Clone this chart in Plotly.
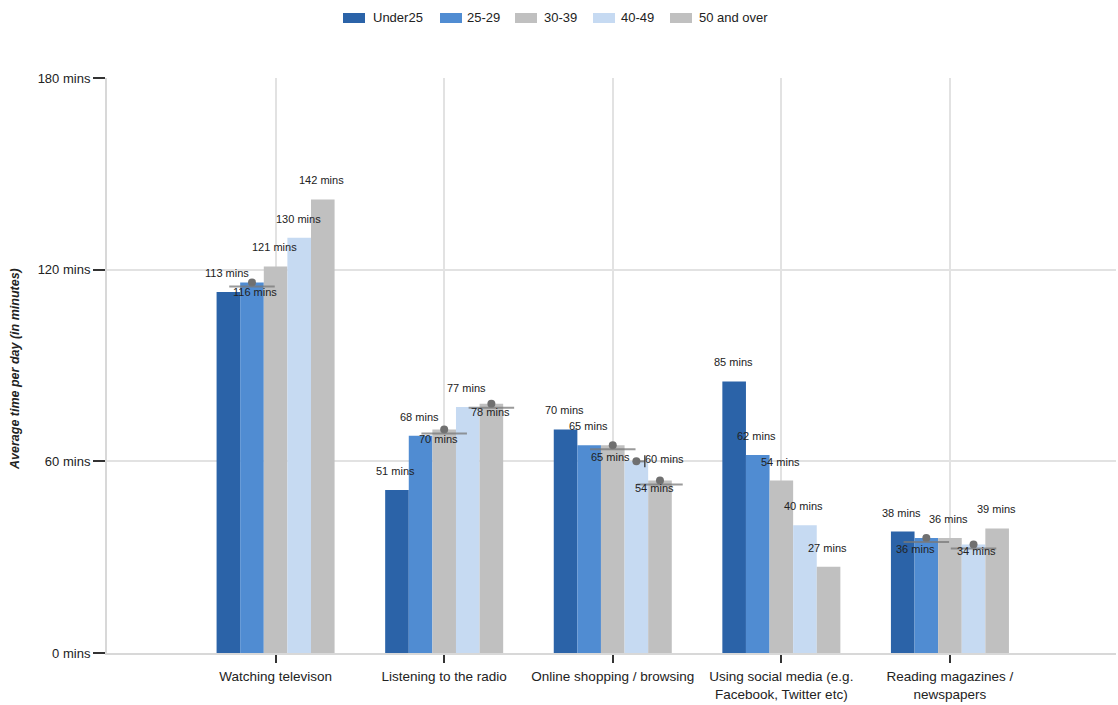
import plotly.graph_objects as go

# Activity categories and age bands
categories = [
    "Watching televison",
    "Listening to the radio",
    "Online shopping / browsing",
    "Using social media (e.g.<br>Facebook, Twitter etc)",
    "Reading magazines /<br>newspapers",
]
age_bands = ["Under25", "25-29", "30-39", "40-49", "50 and over"]

# Average minutes per day, one list per age band (in category order)
under_25 = [113, 51, 70, 85, 38]
age_25_29 = [116, 68, 65, 62, 36]
age_30_39 = [121, 70, 65, 54, 36]
age_40_49 = [130, 77, 60, 40, 34]
age_50_plus = [142, 78, 54, 27, 39]

series = [under_25, age_25_29, age_30_39, age_40_49, age_50_plus]
colors = ["#2b63a8", "#508cd2", "#c0c0c0", "#c6daf2", "#c0c0c0"]

# y-axis ticks
y_ticks = [0, 60, 120, 180]
y_tick_text = ["0 mins", "60 mins", "120 mins", "180 mins"]

# Labels pushed under the bar top with a leader (cat, series): (xshift, yshift)
leader_labels = {
    (0, 1): (3, -10),
    (1, 2): (-6, -10),
    (1, 4): (-1, -8),
    (2, 2): (-2, -12),
    (2, 4): (-5, -7),
    (4, 1): (-11, -11),
    (4, 3): (3, -7),
}
# Label moved to the right of its bar
side_labels = {(2, 3): (28, 2)}

# Page geometry
W, H = 1118, 705
ML, MR, MT, MB = 107, 2, 78, 52
PW, PH = W - ML - MR, H - MT - MB

n_series = len(series)
group_width = 0.7
bar_w = group_width / n_series

FONT = "Liberation Sans, Arial, sans-serif"


def bar_x(j, i):
    return j + (i - (n_series - 1) / 2) * bar_w


def px_x(p):
    return (p - ML) / PW


def px_y(p):
    return (H - MB - p) / PH


fig = go.Figure()
for i, (name, vals) in enumerate(zip(age_bands, series)):
    fig.add_trace(go.Bar(
        x=list(range(len(categories))),
        y=vals,
        name=name,
        marker=dict(color=colors[i], line=dict(width=0)),
        showlegend=False,
        hoverinfo="y+name",
    ))

annotations = []
shapes = []
dot_x, dot_y = [], []
label_font = dict(family=FONT, size=11, color="#222")

for i, vals in enumerate(series):
    for j, v in enumerate(vals):
        xc = bar_x(j, i)
        text = f"{v} mins"
        if (j, i) in leader_labels:
            xs, ys = leader_labels[(j, i)]
            dot_x.append(xc)
            dot_y.append(v)
            shapes.append(dict(
                type="line", xref="x", yref="y", ysizemode="pixel", yanchor=v,
                x0=xc - 0.135, x1=xc + 0.135, y0=-4, y1=-4,
                line=dict(color="rgba(120,120,120,0.75)", width=2),
            ))
            annotations.append(dict(
                x=xc, y=v, xref="x", yref="y", text=text, showarrow=False,
                xshift=xs, yshift=ys, font=label_font,
            ))
        elif (j, i) in side_labels:
            xs, ys = side_labels[(j, i)]
            dot_x.append(xc)
            dot_y.append(v)
            shapes.append(dict(
                type="line", xref="x", yref="y", ysizemode="pixel", yanchor=v,
                x0=xc, x1=xc + 0.05, y0=0, y1=0,
                line=dict(color="rgba(110,110,110,0.8)", width=2),
            ))
            shapes.append(dict(
                type="line", xref="x", yref="y", ysizemode="pixel", yanchor=v,
                x0=xc + 0.05, x1=xc + 0.05, y0=-6, y1=6,
                line=dict(color="rgba(60,60,60,0.9)", width=1.5),
            ))
            annotations.append(dict(
                x=xc, y=v, xref="x", yref="y", text=text, showarrow=False,
                xshift=xs, yshift=ys, font=label_font,
            ))
        else:
            annotations.append(dict(
                x=xc, y=v, xref="x", yref="y", text=text, showarrow=False,
                xshift=-1, yshift=19, font=label_font,
            ))

fig.add_trace(go.Scatter(
    x=dot_x, y=dot_y, mode="markers", showlegend=False, hoverinfo="skip",
    marker=dict(color="#707070", size=8),
))

# Legend drawn across the top
legend_sym_x = [343, 440, 515, 593, 670]
legend_txt_x = [371, 465, 542, 619, 697]
for i, name in enumerate(age_bands):
    shapes.append(dict(
        type="rect", xref="paper", yref="paper",
        x0=px_x(legend_sym_x[i]), x1=px_x(legend_sym_x[i] + 22),
        y0=px_y(23), y1=px_y(13),
        fillcolor=colors[i], line=dict(width=0),
    ))
    annotations.append(dict(
        x=px_x(legend_txt_x[i]), y=px_y(18), xref="paper", yref="paper",
        text=name, showarrow=False, xanchor="left", yanchor="middle",
        font=dict(family=FONT, size=13, color="#222"),
    ))

# Vertical axis title
annotations.append(dict(
    x=px_x(15), y=px_y(369), xref="paper", yref="paper",
    text="<b><i>Average time per day (in minutes)</i></b>", showarrow=False,
    textangle=-90, xanchor="center", yanchor="middle",
    font=dict(family=FONT, size=12.5, color="#222"),
))

fig.update_layout(
    width=W, height=H,
    margin=dict(l=ML, r=MR, t=MT, b=MB),
    paper_bgcolor="white", plot_bgcolor="white",
    barmode="group", bargap=0.3, bargroupgap=0,
    font=dict(family=FONT, size=12, color="#222"),
    annotations=annotations,
    shapes=shapes,
    xaxis=dict(
        range=[-1, 4.985],
        tickmode="array", tickvals=list(range(len(categories))), ticktext=categories,
        showgrid=True, gridcolor="#e2e2e2", gridwidth=2,
        showline=True, linecolor="#d8d8d8", linewidth=2,
        ticks="outside", ticklen=8, tickcolor="#333", tickwidth=1.5,
        ticklabelstandoff=2,
        tickfont=dict(size=13.5, color="#222"),
        zeroline=False, fixedrange=True,
    ),
    yaxis=dict(
        range=[0, 180],
        tickmode="array", tickvals=y_ticks, ticktext=y_tick_text,
        showgrid=True, gridcolor="#e2e2e2", gridwidth=2,
        showline=True, linecolor="#d8d8d8", linewidth=2,
        ticks="outside", ticklen=12, tickcolor="#333", tickwidth=1.5,
        tickfont=dict(size=13, color="#222"),
        zeroline=False, fixedrange=True,
    ),
)

fig.write_html("out.html")
